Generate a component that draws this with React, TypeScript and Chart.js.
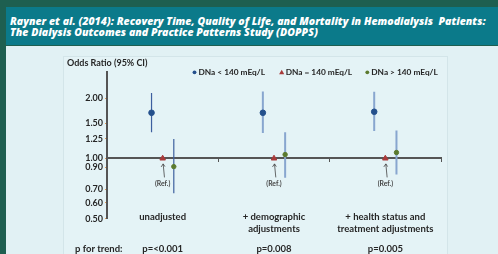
import React, { useEffect, useRef } from "react";
import { Chart, registerables } from "chart.js";
Chart.register(...registerables);

const titleLines = [
  "Rayner et al. (2014): Recovery Time, Quality of Life, and Mortality in Hemodialysis  Patients:",
  "The Dialysis Outcomes and Practice Patterns Study (DOPPS)",
];
const categories: string[][] = [
  ["unadjusted"],
  ["+ demographic", "adjustments"],
  ["+ health status and", "treatment adjustments"],
];
const pTrend = ["p=<0.001", "p=0.008", "p=0.005"];
const seriesNames = ["DNa < 140 mEq/L", "DNa = 140 mEq/L", "DNa > 140 mEq/L"];
const lowOR = [1.69, 1.69, 1.71];
const lowLo = [1.35, 1.34, 1.37];
const lowHi = [2.12, 2.16, 2.15];
const refOR = [1, 1, 1];
const highOR = [0.91, 1.045, 1.07];
const highLo = [0.67, 0.8, 0.83];
const highHi = [1.25, 1.35, 1.38];
const yTicks = [0.5, 0.6, 0.7, 0.9, 1.0, 1.25, 1.5, 2.0];
const offsets = [-0.1, 0, 0.1];

const FONT = "Lato, 'Open Sans', sans-serif";
const TXT = "#262626";
const BLUE = "#24508c";
const RED = "#a83a3a";
const GREEN = "#5b7a2e";
const BAR_DARK = "#3d5f9f";
const BAR_LIGHT = "#88a6cf";

export default function App() {
  const ref = useRef<HTMLCanvasElement>(null);
  useEffect(() => {
    document.body.style.margin = "0";
    const errBars: any[] = [];
    categories.forEach((_, i) => {
      const color = i === 0 ? BAR_DARK : BAR_LIGHT;
      const w = i === 0 ? 1.2 : 2;
      errBars.push({
        type: "line",
        data: [
          { x: i + offsets[0], y: lowLo[i] },
          { x: i + offsets[0], y: lowHi[i] },
        ],
        borderColor: color,
        borderWidth: w,
        pointRadius: 0,
        showLine: true,
      });
      errBars.push({
        type: "line",
        data: [
          { x: i + offsets[2], y: highLo[i] },
          { x: i + offsets[2], y: highHi[i] },
        ],
        borderColor: color,
        borderWidth: w,
        pointRadius: 0,
        showLine: true,
      });
    });

    const textPlugin = {
      id: "texts",
      afterDraw(chart: any) {
        const ctx = chart.ctx;
        const xs = chart.scales.x;
        ctx.save();
        ctx.fillStyle = TXT;
        ctx.textBaseline = "middle";
        // y title
        ctx.font = `bold 9px ${FONT}`;
        ctx.textAlign = "left";
        ctx.fillText("Odds Ratio (95% CI)", 67, 62.7);
        // legend
        const legY = 72.3;
        const legX = [194.5, 281.7, 367.3];
        const legCol = [BLUE, RED, GREEN];
        ctx.font = `bold 8.3px ${FONT}`;
        seriesNames.forEach((n, k) => {
          ctx.fillStyle = legCol[k];
          ctx.beginPath();
          if (k === 1) {
            ctx.moveTo(legX[k], legY - 2.5);
            ctx.lineTo(legX[k] + 2.6, legY + 2);
            ctx.lineTo(legX[k] - 2.6, legY + 2);
            ctx.closePath();
          } else {
            ctx.arc(legX[k], legY, 1.9, 0, Math.PI * 2);
          }
          ctx.fill();
          ctx.fillStyle = TXT;
          ctx.fillText(n, legX[k] + 4, legY);
        });
        // ref annotations
        const meta = chart.getDatasetMeta(1);
        meta.data.forEach((pt: any) => {
          const px = pt.x, py = pt.y;
          ctx.strokeStyle = "#444";
          ctx.lineWidth = 0.8;
          ctx.beginPath();
          ctx.moveTo(px + 1.8, py + 19);
          ctx.lineTo(px + 0.5, py + 5.5);
          ctx.stroke();
          ctx.beginPath();
          ctx.moveTo(px - 1.5, py + 8.5);
          ctx.lineTo(px + 0.5, py + 5.5);
          ctx.lineTo(px + 2.3, py + 8.2);
          ctx.stroke();
          ctx.font = `bold 6.8px ${FONT}`;
          ctx.textAlign = "center";
          ctx.fillStyle = "#444";
          ctx.fillText("(Ref.)", px, py + 25.5);
        });
        // category labels
        ctx.fillStyle = TXT;
        ctx.textAlign = "center";
        ctx.font = `bold 9.5px ${FONT}`;
        categories.forEach((lines, i) => {
          const cx = xs.getPixelForValue(i);
          lines.forEach((l, j) => ctx.fillText(l, cx, 217 + j * 11.5));
          ctx.fillText(pTrend[i], cx, 249);
        });
        ctx.textAlign = "left";
        ctx.fillText("p for trend:", 75, 249);
        ctx.restore();
      },
    };

    const chart = new Chart(ref.current as HTMLCanvasElement, {
      type: "scatter",
      data: {
        datasets: [
          {
            label: seriesNames[0],
            data: categories.map((_, i) => ({ x: i + offsets[0], y: lowOR[i] })),
            backgroundColor: BLUE,
            borderColor: BLUE,
            pointRadius: 2.8,
          },
          {
            label: seriesNames[1],
            data: categories.map((_, i) => ({ x: i + offsets[1], y: refOR[i] })),
            backgroundColor: RED,
            borderColor: RED,
            pointStyle: "triangle",
            pointRadius: 3.2,
          },
          {
            label: seriesNames[2],
            data: categories.map((_, i) => ({ x: i + offsets[2], y: highOR[i] })),
            backgroundColor: GREEN,
            borderColor: GREEN,
            pointRadius: 2.2,
          },
          ...errBars,
        ] as any,
      },
      options: {
        animation: false,
        responsive: true,
        maintainAspectRatio: false,
        layout: { padding: { left: 57, right: 57, top: 72, bottom: 35.3 } },
        plugins: { legend: { display: false }, tooltip: { enabled: false } },
        scales: {
          x: {
            type: "linear",
            position: { y: 1 } as any,
            min: -0.5,
            max: 2.5,
            afterBuildTicks: (s: any) => {
              s.ticks = [0.5, 1.5, 2.5].map((v) => ({ value: v }));
            },
            ticks: { display: false },
            grid: { drawOnChartArea: false, tickLength: 3, color: "#555", lineWidth: 1 },
            border: { color: "#555", width: 2 },
          },
          y: {
            type: "logarithmic",
            min: 0.5,
            max: 2.7,
            afterBuildTicks: (s: any) => {
              s.ticks = yTicks.map((v) => ({ value: v }));
            },
            afterFit: (s: any) => {
              s.width = 50;
            },
            ticks: {
              callback: (v: any) => Number(v).toFixed(2),
              font: { family: FONT, size: 9, weight: "bold" },
              color: TXT,
              padding: 2,
              autoSkip: false,
            },
            grid: { drawOnChartArea: false, tickLength: 2, color: "#e39b55" },
            border: { color: "#555", width: 2 },
          },
        },
      },
      plugins: [textPlugin],
    });
    return () => chart.destroy();
  }, []);

  return (
    <div style={{ position: "relative", width: 498, height: 254, background: "#1e5f50", overflow: "hidden" }}>
      <div style={{ position: "absolute", left: 6, top: 7, width: 492, height: 38, background: "#0b7a8a" }} />
      <div
        style={{
          position: "absolute",
          left: 10,
          top: 15.5,
          color: "#fff",
          fontFamily: "'Open Sans', sans-serif",
          fontWeight: 800,
          fontStyle: "italic",
          fontSize: 10.5,
          letterSpacing: "0.02px",
          lineHeight: "11px",
          whiteSpace: "pre",
        }}
      >
        {titleLines.map((l, i) => (
          <div key={i}>{l}</div>
        ))}
      </div>
      <div style={{ position: "absolute", left: 6, top: 46, width: 492, height: 208, background: "#e1f1f4" }} />
      <div
        style={{
          position: "absolute",
          left: 63,
          top: 56,
          width: 383,
          height: 200,
          background: "#e4f3f6",
          border: "1px solid #d3e5e9",
        }}
      />
      <canvas ref={ref} style={{ position: "absolute", left: 0, top: 0, width: 498, height: 254 }} width={498} height={254} />
    </div>
  );
}
